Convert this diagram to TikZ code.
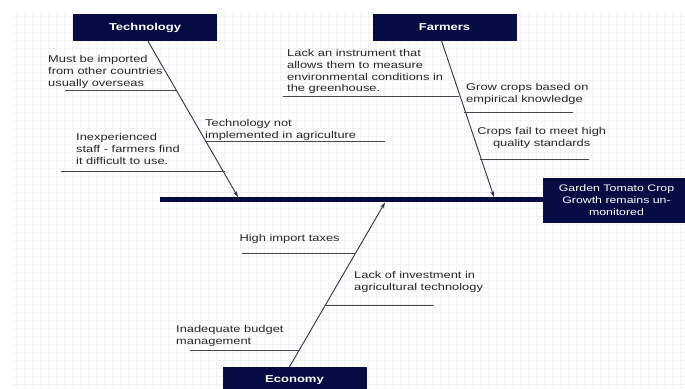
\documentclass[tikz,border=0pt]{standalone}
\usepackage{fontspec}
\newfontfamily\diagfont[FakeStretch=1.3]{Liberation Sans}
\usetikzlibrary{arrows.meta, positioning}
\definecolor{fishnavy}{RGB}{6,11,68}
\definecolor{bonegray}{RGB}{45,48,78}
\definecolor{ribgray}{RGB}{70,70,70}
\definecolor{gridgray}{RGB}{243,243,243}

\tikzset{
  catbox/.style={fill=fishnavy, text=white, font=\diagfont\bfseries\fontsize{10}{11.7}\selectfont,
    minimum width=144pt, minimum height=27pt, inner sep=0pt},
  cause/.style={font=\diagfont\fontsize{9.9}{11.7}\selectfont, text=black!85, align=left,
    inner sep=0pt, anchor=north west},
  bone/.style={bonegray, line width=0.9pt, -{Stealth[length=6pt,width=4pt]}},
  rib/.style={ribgray, line width=0.9pt},
}

\begin{document}
\begin{tikzpicture}[x=1pt, y=-1pt]
  \useasboundingbox (0,0) rectangle (685,388);
  \clip (0,0) rectangle (685,388);
  % faint grid paper
  \draw[gridgray, line width=0.4pt, step=8pt] (12,13) grid (685,388);

  % head and spine
  \node[catbox, minimum width=147pt, minimum height=45pt, align=center,
    font=\diagfont\fontsize{9.5}{12}\selectfont] (effect) at (616.5,200.5)
    {Garden Tomato Crop\\Growth remains un-\\monitored};
  \coordinate (tail) at (160,199.5);
  \draw[fishnavy, line width=5pt] (tail) -- (tail -| effect.west);

  % category boxes
  \node[catbox] (tech) at (145,27.5) {Technology};
  \node[catbox] (farm) at (444.5,27) {Farmers};
  \node[catbox] (econ) at (294.5,380.5) {Economy};

  % main bones
  \coordinate (techtip) at (238,197);
  \coordinate (farmtip) at (494,197);
  \coordinate (econtip) at (385,202.5);
  \draw[bone] ([xshift=3pt]tech.south) -- (techtip);
  \draw[bone] ([xshift=-3pt]farm.south) -- (farmtip);
  \draw[bone] ([xshift=-5pt]econ.north) -- (econtip);

  % Technology causes
  \node[cause] (t1) at (48,55.5) {Must be imported\\from other countries\\usually overseas};
  \coordinate (r1) at (176,90);
  \draw[rib] (r1) -- ++(-111,0);
  \node[cause] (t2) at (76,133.5) {Inexperienced\\staff - farmers find\\it difficult to use.};
  \coordinate (r2) at (225,171);
  \draw[rib] (r2) -- ++(-164,0);
  \node[cause] (t3) at (205,119) {Technology not\\implemented in agriculture};
  \coordinate (r3) at (205,141);
  \draw[rib] (r3) -- ++(180,0);

  % Farmers causes
  \node[cause] (f1) at (287,49.3) {Lack an instrument that\\allows them to measure\\environmental conditions in\\the greenhouse.};
  \coordinate (r4) at (459,96);
  \draw[rib] (r4) -- ++(-176,0);
  \node[cause] (f2) at (466,83.3) {Grow crops based on\\empirical knowledge};
  \coordinate (r5) at (464,112);
  \draw[rib] (r5) -- ++(109,0);
  \node[cause, align=center, anchor=north] (f3) at (541.7,127.3) {Crops fail to meet high\\quality standards};
  \coordinate (r6) at (480,159);
  \draw[rib] (r6) -- ++(109,0);

  % Economy causes
  \node[cause] (e1) at (239.3,234.3) {High import taxes};
  \coordinate (r7) at (356,253);
  \draw[rib] (r7) -- ++(-114,0);
  \node[cause] (e2) at (354,271) {Lack of investment in\\agricultural technology};
  \coordinate (r8) at (326,305);
  \draw[rib] (r8) -- ++(108,0);
  \node[cause] (e3) at (176,325) {Inadequate budget\\management};
  \coordinate (r9) at (299,350);
  \draw[rib] (r9) -- ++(-109,0);
\end{tikzpicture}
\end{document}
